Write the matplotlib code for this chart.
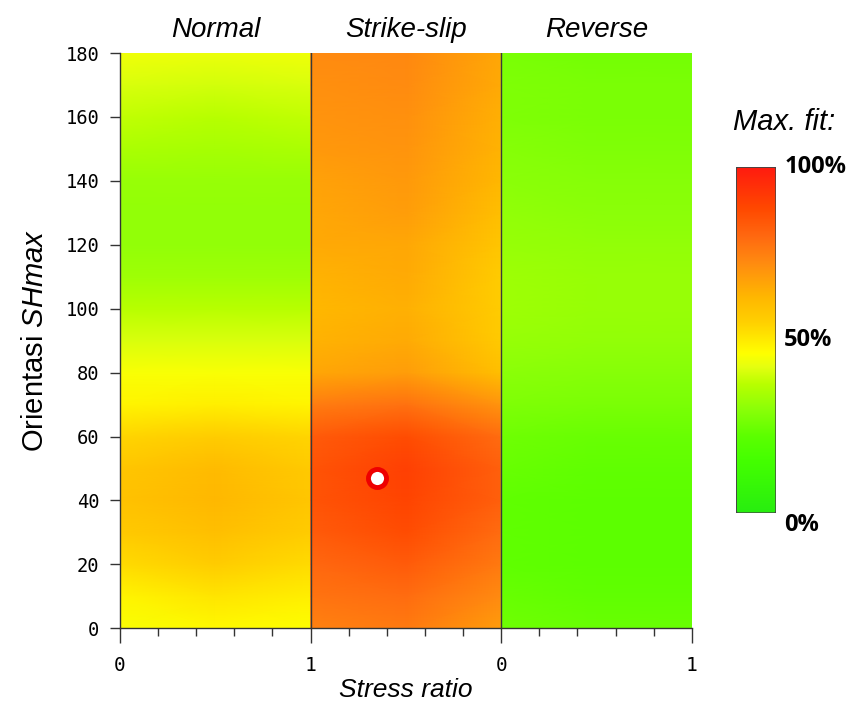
import numpy as np
import matplotlib
matplotlib.use("Agg")
import matplotlib.pyplot as plt
from matplotlib.colors import LinearSegmentedColormap
from matplotlib.patches import FancyBboxPatch

plt.rcParams['mathtext.fontset'] = 'custom'
plt.rcParams['mathtext.rm'] = 'Liberation Sans'
plt.rcParams['mathtext.it'] = 'Liberation Sans:italic'

# ---------------- data ----------------
panels = ["Normal", "Strike-slip", "Reverse"]
orient = [0, 10, 20, 30, 40, 50, 60, 70, 80, 90, 100, 110, 120, 130, 140, 150, 160, 170, 180]

# fit (0..1) at left edge / middle / right edge of each panel
normal_left  = [0.45, 0.48, 0.53, 0.57, 0.59, 0.58, 0.54, 0.48, 0.45, 0.41, 0.37, 0.33, 0.31, 0.31, 0.32, 0.35, 0.38, 0.41, 0.44]
normal_mid   = [0.47, 0.51, 0.56, 0.60, 0.62, 0.61, 0.56, 0.49, 0.45, 0.41, 0.37, 0.33, 0.31, 0.31, 0.32, 0.34, 0.37, 0.40, 0.43]
normal_right = [0.46, 0.49, 0.53, 0.56, 0.58, 0.57, 0.54, 0.48, 0.45, 0.41, 0.37, 0.33, 0.31, 0.31, 0.32, 0.35, 0.38, 0.41, 0.44]

ss_left  = [0.74, 0.77, 0.80, 0.83, 0.85, 0.85, 0.83, 0.75, 0.66, 0.63, 0.62, 0.63, 0.65, 0.66, 0.67, 0.69, 0.70, 0.71, 0.72]
ss_mid   = [0.76, 0.79, 0.83, 0.87, 0.89, 0.90, 0.87, 0.78, 0.68, 0.65, 0.64, 0.65, 0.66, 0.68, 0.69, 0.70, 0.71, 0.72, 0.73]
ss_right = [0.68, 0.72, 0.76, 0.79, 0.82, 0.82, 0.79, 0.70, 0.60, 0.57, 0.56, 0.56, 0.58, 0.60, 0.62, 0.63, 0.64, 0.65, 0.66]

rev_left  = [0.25, 0.24, 0.23, 0.23, 0.23, 0.24, 0.25, 0.28, 0.30, 0.32, 0.33, 0.33, 0.32, 0.31, 0.30, 0.29, 0.28, 0.28, 0.27]
rev_mid   = [0.24, 0.23, 0.22, 0.22, 0.22, 0.23, 0.24, 0.27, 0.29, 0.31, 0.32, 0.32, 0.31, 0.30, 0.29, 0.28, 0.27, 0.27, 0.26]
rev_right = [0.24, 0.23, 0.22, 0.22, 0.22, 0.23, 0.24, 0.27, 0.29, 0.31, 0.32, 0.32, 0.31, 0.30, 0.29, 0.28, 0.27, 0.27, 0.26]

best_x = 1.35      # global stress-ratio axis position of best fit
best_orient = 47

xtick_labels = ["0", "1", "0", "1"]
cbar_labels = ["0%", "50%", "100%"]

# ---------------- colormap ----------------
nodes = [(0.00, "#28ee10"), (0.15, "#44ff00"), (0.22, "#5cff00"), (0.30, "#8cff08"),
         (0.37, "#b8ff00"), (0.42, "#e4ff10"), (0.46, "#ffff00"), (0.55, "#ffd000"),
         (0.62, "#ffb800"), (0.72, "#ff8c10"), (0.80, "#ff6810"), (0.88, "#ff4800"),
         (1.00, "#ff1a10")]
cmap = LinearSegmentedColormap.from_list("fit", nodes)

fig = plt.figure(figsize=(8.51, 7.02), dpi=100)
ax = fig.add_axes([0.141, 0.105, 0.672, 0.8195])

cols = [(normal_left, normal_mid, normal_right),
        (ss_left, ss_mid, ss_right),
        (rev_left, rev_mid, rev_right)]
for i, (l, m, r) in enumerate(cols):
    xs = np.array([i, i + 0.5, i + 1.0])
    X, Y = np.meshgrid(xs, np.array(orient))
    C = np.column_stack([l, m, r])
    ax.pcolormesh(X, Y, C, cmap=cmap, vmin=0, vmax=1, shading='gouraud', zorder=1)

for xv in [1, 2]:
    ax.axvline(xv, color="#3a3a3a", lw=1.0, zorder=3)

ax.plot([best_x], [best_orient], 'o', ms=13, mfc='white', mec='#ee0000', mew=3.5, zorder=5)

ax.set_xlim(0, 3)
ax.set_ylim(0, 180)
for s in ['top', 'right']:
    ax.spines[s].set_visible(False)
for s in ['left', 'bottom']:
    ax.spines[s].set_color('#333333')
    ax.spines[s].set_linewidth(1.0)
    ax.spines[s].set_zorder(4)

ax.set_xticks([0, 1, 2, 3])
ax.set_xticklabels(xtick_labels, family='DejaVu Sans Mono', fontsize=14)
ax.set_xticks(np.arange(0, 3.01, 0.2), minor=True)
ax.tick_params(axis='x', which='major', length=11, width=1, color='#333333', pad=9)
ax.tick_params(axis='x', which='minor', length=6, width=1, color='#333333')
ax.set_yticks(range(0, 181, 20))
ax.set_yticklabels([str(v) for v in range(0, 181, 20)], family='DejaVu Sans Mono', fontsize=13.5)
ax.tick_params(axis='y', length=7, width=1, color='#333333', pad=8)

ax.set_xlabel("Stress ratio", fontsize=19, style='italic', family='Liberation Sans', labelpad=2)
ax.set_ylabel("Orientasi $\\mathit{SHmax}$", fontsize=21, family='Liberation Sans', labelpad=12)

for i, name in enumerate(panels):
    ax.text(i + 0.5, 1.018, name, transform=ax.get_xaxis_transform(), ha='center', va='bottom',
            fontsize=20, style='italic', family='Liberation Sans')

# ---------------- colorbar ----------------
cax = fig.add_axes([0.865, 0.269, 0.047, 0.493])
grad = np.linspace(0, 1, 256).reshape(-1, 1)
im = cax.imshow(grad, cmap=cmap, aspect='auto', origin='lower', extent=[0, 1, 0, 1])
cax.set_xlim(0, 1); cax.set_ylim(0, 1)
cax.set_xticks([]); cax.set_yticks([])
for s in cax.spines.values():
    s.set_visible(False)
border = FancyBboxPatch((0, 0), 1, 1, boxstyle="round,pad=0,rounding_size=0.05",
                        transform=cax.transAxes, fill=False, ec='#444444', lw=1.2,
                        mutation_aspect=0.1)
cax.add_patch(border)
im.set_clip_path(border)
for v, lab in zip([0, 0.5, 1.0], cbar_labels):
    cax.text(1.2, v, lab, transform=cax.transAxes, ha='left', va='center' if v > 0 else 'top',
             fontsize=17, fontweight='bold', family='Open Sans')
fig.text(0.922, 0.826, "Max. fit:", ha='center', va='center', fontsize=21, style='italic',
         family='Liberation Sans')

fig.savefig("out.png", dpi=100)
